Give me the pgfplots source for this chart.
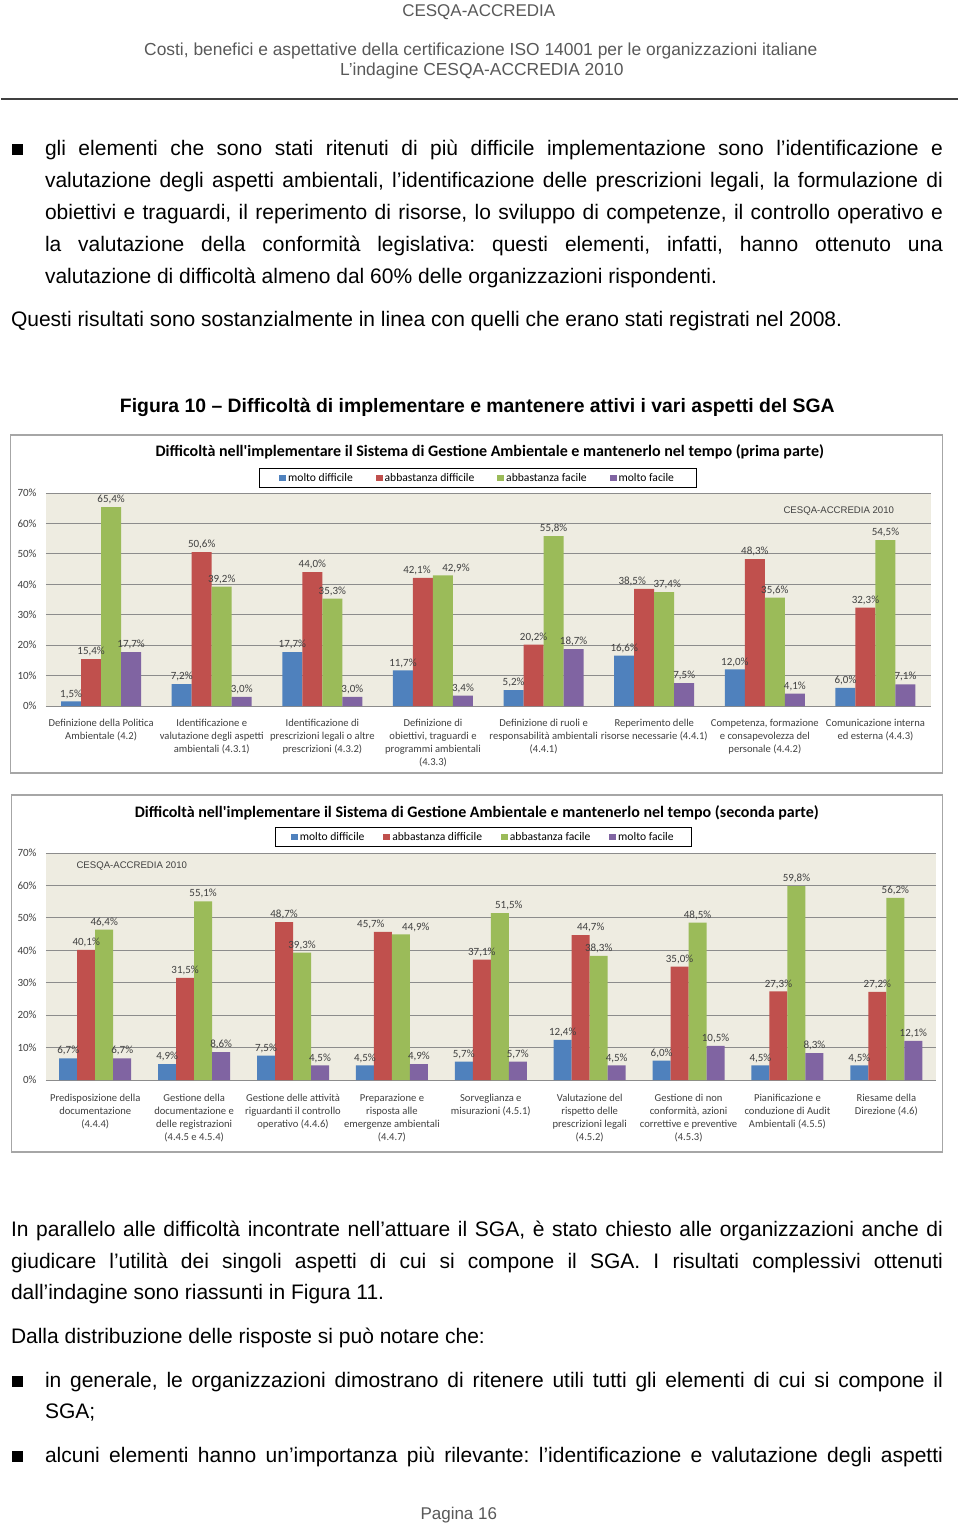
\documentclass[border=0pt]{standalone}
\usepackage{fontspec}
\setmainfont{Liberation Sans}
\newfontfamily\calib{Carlito}
\usepackage{pgfplots}
\usepackage{pgfplotstable}
\pgfplotsset{compat=1.18}
\frenchspacing
\definecolor{cblue}{HTML}{4F81BD}
\definecolor{cred}{HTML}{C0504D}
\definecolor{cgreen}{HTML}{9BBB59}
\definecolor{cpurple}{HTML}{8064A2}
\definecolor{plotbg}{HTML}{EEECE1}
\definecolor{gridc}{HTML}{8C8C8C}
\definecolor{framec}{HTML}{A6A6A6}
\definecolor{labc}{HTML}{404040}
\definecolor{headc}{HTML}{595959}

% rdx, gdx: horizontal offsets (px) of the value labels, as in the reference
\pgfplotstableread{
cat md ad af mf rdx gdx
0 1.5 15.4 65.4 17.7 0 0
1 7.2 50.6 39.2 3.0 0 0
2 17.7 44.0 35.3 3.0 0 0
3 11.7 42.1 42.9 3.4 -6 13
4 5.2 20.2 55.8 18.7 0 0
5 16.6 38.5 37.4 7.5 -12 3
6 12.0 48.3 35.6 4.1 0 0
7 6.0 32.3 54.5 7.1 0 0
}\tabA

\pgfplotstableread{
cat md ad af mf rdx gdx
0 6.7 40.1 46.4 6.7 0 0
1 4.9 31.5 55.1 8.6 0 0
2 7.5 48.7 39.3 4.5 0 0
3 4.5 45.7 44.9 4.9 -12 15
4 5.7 37.1 51.5 5.7 0 9
5 12.4 44.7 38.3 4.5 10 0
6 6.0 35.0 48.5 10.5 0 0
7 4.5 27.3 59.8 8.3 0 0
8 4.5 27.2 56.2 12.1 0 0
}\tabB

\pgfplotsset{
 barchart/.style={
  scale only axis, ybar=0pt, ymin=0, ymax=70,
  ytick={0,10,...,70}, yticklabels={0\%,10\%,20\%,30\%,40\%,50\%,60\%,70\%},
  axis background/.style={fill=plotbg},
  ymajorgrids, grid style={draw=gridc, line width=0.8pt},
  axis x line*=bottom, axis y line*=left,
  x axis line style={draw=gridc, line width=0.8pt, -},
  y axis line style={draw=none},
  major tick length=0pt, tick style={draw=none},
  yticklabel style={font=\calib\fontsize{11}{13}\selectfont, text=labc, anchor=east, inner sep=0pt, xshift=-9pt},
  xticklabel style={font=\calib\fontsize{10.6}{13.2}\selectfont, text=labc, align=center, anchor=north, inner sep=0pt},
  nodes near coords={\pgfmathprintnumber{\pgfplotspointmeta}\%},
  every node near coord/.append style={font=\calib\fontsize{11}{12}\selectfont, text=labc, inner sep=2.8pt},
  /pgf/number format/use comma, /pgf/number format/fixed, /pgf/number format/fixed zerofill,
  /pgf/number format/precision=1, /pgf/number format/assume math mode=true,
  legend columns=4,
  legend image code/.code={\fill[##1] (0pt,-3.3pt) rectangle (6.8pt,3.3pt);},
  legend style={draw=black, line width=0.8pt, font=\calib\fontsize{11.6}{13}\selectfont, text=black,
    inner xsep=20pt, inner ysep=3pt,
    /tikz/every even column/.append style={column sep=21pt}},
 },
 shiftr/.style={visualization depends on={\thisrow{rdx} \as \mydx},
   every node near coord/.append style={xshift=\mydx}},
 shiftg/.style={visualization depends on={\thisrow{gdx} \as \mydx},
   every node near coord/.append style={xshift=\mydx}},
}

\begin{document}
\begin{tikzpicture}[x=1pt,y=-1pt]
\fill[white] (0,0) rectangle (960,1526);
% header
\node[anchor=base, inner sep=0, text=headc, font=\fontsize{17}{20}\selectfont] at (478,16) {CESQA-ACCREDIA};
\node[anchor=base, inner sep=0, text=headc, font=\fontsize{17.4}{20}\selectfont] at (480,55) {Costi, benefici e aspettative della certificazione ISO 14001 per le organizzazioni italiane};
\node[anchor=base, inner sep=0, text=headc, font=\fontsize{17.4}{20}\selectfont] at (481,75) {L’indagine CESQA-ACCREDIA 2010};
\draw[line width=1.6pt, black!75] (0,99) -- (957,99);

% first text block
\fill[black] (11,144) rectangle (22,155);
\begin{scope}[every node/.style={anchor=base west, inner sep=0, font=\fontsize{21}{32}\selectfont}]
\node at (44,155) {\makebox[898pt][s]{gli elementi che sono stati ritenuti di più difficile implementazione sono l’identificazione e}};
\node at (44,187) {\makebox[898pt][s]{valutazione degli aspetti ambientali, l’identificazione delle prescrizioni legali, la formulazione di}};
\node at (44,219) {\makebox[898pt][s]{obiettivi e traguardi, il reperimento di risorse, lo sviluppo di competenze, il controllo operativo e}};
\node at (44,251) {\makebox[898pt][s]{la valutazione della conformità legislativa: questi elementi, infatti, hanno ottenuto una}};
\node at (44,283) {valutazione di difficoltà almeno dal 60\% delle organizzazioni rispondenti.};
\node at (10,326) {Questi risultati sono sostanzialmente in linea con quelli che erano stati registrati nel 2008.};

\node at (10,1236) {\makebox[932pt][s]{In parallelo alle difficoltà incontrate nell’attuare il SGA, è stato chiesto alle organizzazioni anche di}};
\node at (10,1268) {\makebox[932pt][s]{giudicare l’utilità dei singoli aspetti di cui si compone il SGA. I risultati complessivi ottenuti}};
\node at (10,1299) {dall’indagine sono riassunti in Figura 11.};
\node at (10,1343) {Dalla distribuzione delle risposte si può notare che:};
\node at (44,1387) {\makebox[898pt][s]{in generale, le organizzazioni dimostrano di ritenere utili tutti gli elementi di cui si compone il}};
\node at (44,1418) {SGA;};
\node at (44,1462) {\makebox[898pt][s]{alcuni elementi hanno un’importanza più rilevante: l’identificazione e valutazione degli aspetti}};
\end{scope}
\fill[black] (11,1376) rectangle (22,1387);
\fill[black] (11,1451) rectangle (22,1462);

\node[anchor=base, inner sep=0, font=\bfseries\fontsize{19.4}{22}\selectfont] at (476.5,412) {Figura 10 – Difficoltà di implementare e mantenere attivi i vari aspetti del SGA};

\node[anchor=base, inner sep=0, text=headc, font=\fontsize{17}{20}\selectfont] at (458,1519) {Pagina 16};

% frames
\draw[framec, line width=1.2pt] (10,435) rectangle (942,773);
\draw[framec, line width=1.2pt] (11,795) rectangle (942,1152);

\node[font=\calib\bfseries\fontsize{16}{18}\selectfont, inner sep=0] at (489,452) {Difficoltà nell'implementare il Sistema di Gestione Ambientale e mantenerlo nel tempo (prima parte)};
\node[font=\calib\bfseries\fontsize{16}{18}\selectfont, inner sep=0] at (476,813) {Difficoltà nell'implementare il Sistema di Gestione Ambientale e mantenerlo nel tempo (seconda parte)};

% chart 1
\begin{axis}[barchart, at={(45pt,-706pt)}, anchor=south west,
  width=885pt, height=213pt, xmin=-0.5, xmax=7.5, bar width=20pt,
  xtick={0,...,7},
  xticklabel style={yshift=-12.5pt},
  xticklabels={{Definizione della Politica\\Ambientale (4.2)},
   {Identificazione e\\valutazione degli aspetti\\ambientali (4.3.1)},
   {Identificazione di\\prescrizioni legali o altre\\prescrizioni (4.3.2)},
   {Definizione di\\obiettivi, traguardi e\\programmi ambientali\\(4.3.3)},
   {Definizione di ruoli e\\responsabilità ambientali\\(4.4.1)},
   {Reperimento delle\\risorse necessarie (4.4.1)},
   {Competenza, formazione\\e consapevolezza del\\personale (4.4.2)},
   {Comunicazione interna\\ed esterna (4.4.3)}},
  legend style={at={(0.488,1.07)}, anchor=center}]
\addplot[fill=cblue, draw=none] table[x=cat,y=md]{\tabA};
\addplot[fill=cred, draw=none, shiftr] table[x=cat,y=ad]{\tabA};
\addplot[fill=cgreen, draw=none, shiftg] table[x=cat,y=af]{\tabA};
\addplot[fill=cpurple, draw=none] table[x=cat,y=mf]{\tabA};
\legend{molto difficile, abbastanza difficile, abbastanza facile, molto facile}
\node[font=\fontsize{9.6}{11}\selectfont, text=labc] at (rel axis cs:0.896,0.915) {CESQA-ACCREDIA 2010};
\end{axis}

% chart 2
\begin{axis}[barchart, at={(45pt,-1080pt)}, anchor=south west,
  width=890pt, height=227pt, xmin=-0.5, xmax=8.5, bar width=18pt,
  xtick={0,...,8},
  xticklabel style={yshift=-13.5pt},
  xticklabels={{Predisposizione della\\documentazione\\(4.4.4)},
   {Gestione della\\documentazione e\\delle registrazioni\\(4.4.5 e 4.5.4)},
   {Gestione delle attività\\riguardanti il controllo\\operativo (4.4.6)},
   {Preparazione e\\risposta alle\\emergenze ambientali\\(4.4.7)},
   {Sorveglianza e\\misurazioni (4.5.1)},
   {Valutazione del\\rispetto delle\\prescrizioni legali\\(4.5.2)},
   {Gestione di non\\conformità, azioni\\correttive e preventive\\(4.5.3)},
   {Pianificazione e\\conduzione di Audit\\Ambientali (4.5.5)},
   {Riesame della\\Direzione (4.6)}},
  legend style={at={(0.4916,1.0705)}, anchor=center, inner xsep=16pt,
    /tikz/every even column/.append style={column sep=17pt}}]
\addplot[fill=cblue, draw=none] table[x=cat,y=md]{\tabB};
\addplot[fill=cred, draw=none, shiftr] table[x=cat,y=ad]{\tabB};
\addplot[fill=cgreen, draw=none, shiftg] table[x=cat,y=af]{\tabB};
\addplot[fill=cpurple, draw=none] table[x=cat,y=mf]{\tabB};
\legend{molto difficile, abbastanza difficile, abbastanza facile, molto facile}
\node[font=\fontsize{9.6}{11}\selectfont, text=labc] at (rel axis cs:0.0966,0.943) {CESQA-ACCREDIA 2010};
\end{axis}
\end{tikzpicture}
\end{document}
